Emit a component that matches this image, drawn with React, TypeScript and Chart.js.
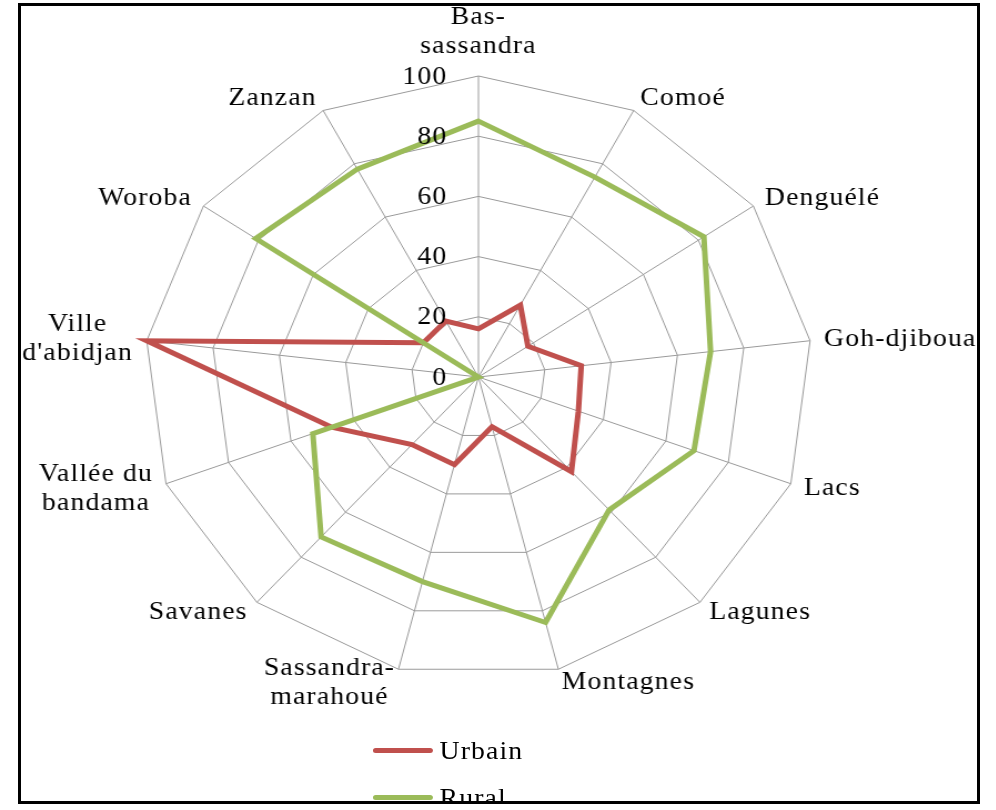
import { useEffect, useRef } from "react";
import { Chart, registerables } from "chart.js";

Chart.register(...registerables);

const regions = [
  "Bas-sassandra",
  "Comoé",
  "Denguélé",
  "Goh-djiboua",
  "Lacs",
  "Lagunes",
  "Montagnes",
  "Sassandra-marahoué",
  "Savanes",
  "Vallée du bandama",
  "Ville d'abidjan",
  "Woroba",
  "Zanzan",
];
const regionLabelLines = [
  ["Bas-", "sassandra"],
  ["Comoé"],
  ["Denguélé"],
  ["Goh-djiboua"],
  ["Lacs"],
  ["Lagunes"],
  ["Montagnes"],
  ["Sassandra-", "marahoué"],
  ["Savanes"],
  ["Vallée du", "bandama"],
  ["Ville", "d'abidjan"],
  ["Woroba"],
  ["Zanzan"],
];
const urbain = [16, 27, 18, 31, 32, 42, 17, 30, 30, 47, 100, 20, 21];
const rural = [85, 75, 82, 70, 69, 59, 84, 70, 71, 53, 0, 81, 78];
const tickValues = [0, 20, 40, 60, 80, 100];
const seriesNames = ["Urbain", "Rural"];
const seriesColors = ["#c0504d", "#9bbb59"];

const SX = 1.11;
const W = 897;
const H = 810;
const FONT = '25px "Liberation Serif", "Times New Roman", serif';

export default function App() {
  const ref = useRef<HTMLCanvasElement>(null);

  useEffect(() => {
    const labelsPlugin = {
      id: "customLabels",
      afterDatasetsDraw(chart: any) {
        const scale = chart.scales.r;
        const ctx = chart.ctx as CanvasRenderingContext2D;
        ctx.save();
        ctx.font = FONT;
        (ctx as any).letterSpacing = "1px";
        ctx.fillStyle = "#000";
        ctx.textBaseline = "middle";
        ctx.textAlign = "right";
        tickValues.forEach((v) => {
          const y = scale.yCenter - scale.getDistanceFromCenterForValue(v);
          ctx.fillText(String(v), scale.xCenter - 28, y + 1);
        });
        const n = regions.length;
        regionLabelLines.forEach((lines, i) => {
          const p = scale.getPointPosition(i, scale.drawingArea);
          const th = (2 * Math.PI * i) / n;
          const s = Math.sin(th);
          const c = Math.cos(th);
          const lh = 29;
          const bw = Math.max(...lines.map((l) => ctx.measureText(l).width));
          const ox = p.x + (14 * s) / SX;
          let cx: number;
          if (s > 0.05) cx = ox + bw / 2;
          else if (s < -0.05) cx = ox - bw / 2;
          else cx = p.x;
          let firstY: number;
          if (c > 0.95) firstY = p.y - 30 - (lines.length - 1) * lh;
          else {
            const cy = p.y - 14 * c;
            firstY = cy - ((lines.length - 1) * lh) / 2;
          }
          ctx.textAlign = "center";
          lines.forEach((l, k) => ctx.fillText(l, cx, firstY + k * lh));
        });
        ctx.restore();
      },
    };

    const chart = new Chart(ref.current as HTMLCanvasElement, {
      type: "radar",
      data: {
        labels: regions,
        datasets: [
          {
            label: seriesNames[0],
            data: urbain,
            borderColor: seriesColors[0],
            backgroundColor: seriesColors[0],
            borderWidth: 5,
            pointRadius: 0,
            fill: false,
            borderJoinStyle: "miter",
            order: 2,
          },
          {
            label: seriesNames[1],
            data: rural,
            borderColor: seriesColors[1],
            backgroundColor: seriesColors[1],
            borderWidth: 5,
            pointRadius: 0,
            fill: false,
            borderJoinStyle: "miter",
            order: 1,
          },
        ],
      },
      options: {
        responsive: false,
        animation: false,
        layout: { padding: { left: 130, right: 165, top: 76, bottom: 132 } },
        plugins: { legend: { display: false }, tooltip: { enabled: false } },
        scales: {
          r: {
            min: 0,
            max: 100,
            ticks: { stepSize: 20, display: false },
            grid: { color: "#9a9a9a", lineWidth: 1 },
            angleLines: { color: "#9a9a9a", lineWidth: 1 },
            pointLabels: { display: false },
          },
        },
      },
      plugins: [labelsPlugin],
    });
    return () => chart.destroy();
  }, []);

  const legendText: any = {
    position: "absolute",
    left: 396,
    font: FONT,
    lineHeight: "29px",
    letterSpacing: "1px",
    color: "#000",
    whiteSpace: "nowrap",
  };
  const legendLine: any = {
    position: "absolute",
    left: 336,
    width: 54,
    height: 5,
    borderRadius: 3,
  };

  return (
    <div
      style={{
        position: "fixed",
        left: 0,
        top: 0,
        width: 996,
        height: 810,
        background: "#fff",
        overflow: "hidden",
      }}
    >
      <div
        style={{
          position: "absolute",
          left: 0,
          top: 0,
          width: 996,
          height: 803,
          overflow: "hidden",
        }}
      >
        <div
          style={{
            position: "absolute",
            left: 0,
            top: 0,
            width: W,
            height: H,
            transform: `scaleX(${SX})`,
            transformOrigin: "0 0",
          }}
        >
          <canvas ref={ref} width={W} height={H} style={{ display: "block" }} />
          <div style={{ ...legendLine, top: 747.5, background: seriesColors[0] }} />
          <div style={{ ...legendText, top: 735.5 }}>{seriesNames[0]}</div>
          <div style={{ ...legendLine, top: 794.5, background: seriesColors[1] }} />
          <div style={{ ...legendText, top: 782.5 }}>{seriesNames[1]}</div>
        </div>
      </div>
      <div
        style={{
          position: "absolute",
          left: 18,
          top: 3,
          width: 962,
          height: 801,
          border: "3px solid #000",
          boxSizing: "border-box",
        }}
      />
    </div>
  );
}
